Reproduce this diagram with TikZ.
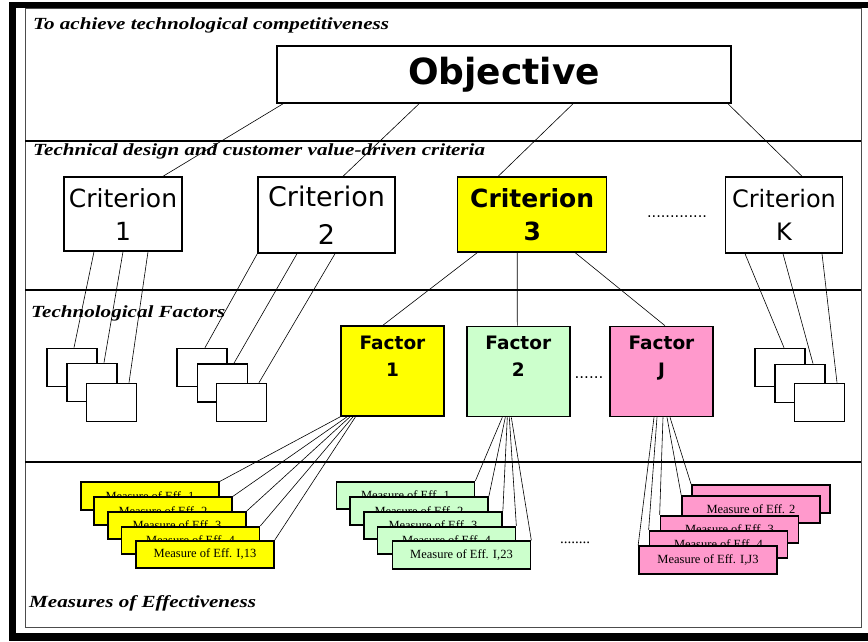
\documentclass[tikz,border=0pt]{standalone}
\usepackage{fontspec}
\setmainfont{Liberation Serif}
\newfontfamily\boxfont{DejaVu Sans}
\newfontfamily\layerfont[FakeStretch=1.24]{Liberation Serif}
\definecolor{crityellow}{HTML}{FFFF00}
\definecolor{factgreen}{HTML}{CCFFCC}
\definecolor{factpink}{HTML}{FF99CC}

\begin{document}
\begin{tikzpicture}[x=1pt, y=-1pt,
  layer/.style={anchor=base west, inner sep=0, font=\layerfont\bfseries\itshape\fontsize{17}{17}\selectfont},
  crit/.style={draw, line width=1.4pt, inner sep=0, align=center},
  fact/.style={draw, line width=1.6pt, inner sep=0, minimum width=103pt, minimum height=90pt, font=\boxfont\bfseries\fontsize{18.5}{27}\selectfont},
  sub/.style={draw, line width=1.7pt, fill=white, inner sep=0, minimum width=50pt, minimum height=38pt},
  meas/.style={draw, line width=1.7pt, inner sep=0, minimum width=138pt, minimum height=27.5pt, font=\fontsize{12.5}{12.5}\selectfont},
  link/.style={line width=0.6pt}]
\useasboundingbox (0,0) rectangle (868,641);
% frame and layers
\fill (9,2) rectangle (868,8);
\fill (9,2) rectangle (16,641);
\fill (9,633) rectangle (868,641);
\draw[black!70, line width=1pt] (25,8) rectangle (861,627);
\draw[line width=2pt] (25,140.5) -- (861,140.5);
\draw[line width=2pt] (25,290) -- (861,290);
\draw[line width=2pt] (25,462) -- (861,462);
\node[layer] (l1) at (33,29) {To achieve technological competitiveness};
\node[layer] (l2) at (33,155) {Technical design and customer value-driven criteria};
\node[layer] (l3) at (31,317) {Technological Factors};
\node[layer] (l4) at (29,607) {Measures of Effectiveness};

\node[draw, line width=1.6pt, inner sep=0, minimum width=454pt, minimum height=57pt, font=\boxfont\bfseries\fontsize{36}{36}\selectfont] (o1) at (504,74.5) {Objective};

\node[crit, minimum width=118pt, minimum height=74pt, font=\boxfont\fontsize{25}{33}\selectfont] (c1) at (123,214) {Criterion\\1};
\node[crit, minimum width=137pt, minimum height=76pt, font=\boxfont\fontsize{27}{38}\selectfont] (c2) at (326.5,215) {Criterion\\2};
\node[crit, fill=crityellow, minimum width=149pt, minimum height=75pt, font=\boxfont\bfseries\fontsize{25}{33}\selectfont] (c3) at (532.2,214.5) {Criterion\\3};
\node[crit, minimum width=117pt, minimum height=76pt, font=\boxfont\fontsize{24}{33}\selectfont] (ck) at (784,215) {Criterion\\K};
\node[font=\boxfont\fontsize{14.5}{14.5}\selectfont] (cdots) at (677,217) {.............};

\node[sub] (s1a) at (72,367.5) {};
\node[sub] (s1b) at (92,382.5) {};
\node[sub] (s1c) at (111.5,402.5) {};
\node[sub] (s2a) at (202,367.5) {};
\node[sub] (s2b) at (222.5,383) {};
\node[sub] (s2c) at (241.5,402.5) {};
\node[sub] (ska) at (780,367.5) {};
\node[sub] (skb) at (800,383.5) {};
\node[sub] (skc) at (819.5,402.5) {};

\node[fact, fill=crityellow] (f1) at (392.5,371) {\parbox[t][70pt][t]{100pt}{\centering Factor\\1}};
\node[fact, fill=factgreen] (f2) at (518.3,371.5) {\parbox[t][70pt][t]{100pt}{\centering Factor\\2}};
\node[fact, fill=factpink] (fj) at (661.5,371.5) {\parbox[t][70pt][t]{100pt}{\centering Factor\\J}};
\node[font=\boxfont\fontsize{15}{15}\selectfont] (fdots) at (589,378) {......};

\node[meas, fill=crityellow] (m11) at (150,496) {Measure of Eff. 1};
\node[meas, fill=crityellow] (m12) at (163,511) {Measure of Eff. 2};
\node[meas, fill=crityellow] (m13) at (177,525.5) {Measure of Eff. 3};
\node[meas, fill=crityellow] (m14) at (190.5,540.5) {Measure of Eff. 4};
\node[meas, fill=crityellow] (m15) at (205,554.5) {Measure of Eff. I,13};
\node[meas, fill=factgreen] (m21) at (405.5,495.5) {Measure of Eff. 1};
\node[meas, fill=factgreen] (m22) at (419,511) {Measure of Eff. 2};
\node[meas, fill=factgreen] (m23) at (433,525.5) {Measure of Eff. 3};
\node[meas, fill=factgreen] (m24) at (446.5,540.5) {Measure of Eff. 4};
\node[meas, fill=factgreen] (m25) at (461.5,555) {Measure of Eff. I,23};
\node[font=\fontsize{15}{15}\selectfont] (mdots) at (575,543) {........};
\node[meas, fill=factpink] (mj1) at (761,499) {};
\node[meas, fill=factpink] (mj2) at (751,509.5) {Measure of Eff. 2};
\node[meas, fill=factpink] (mj3) at (729.5,529.5) {Measure of Eff. 3};
\node[meas, fill=factpink] (mj4) at (718.5,544.5) {Measure of Eff. 4};
\node[meas, fill=factpink] (mj5) at (708,560) {Measure of Eff. I,J3};

% objective to criteria
\draw[link] ([xshift=-221pt]o1.south) -- ([xshift=40pt]c1.north);
\draw[link] ([xshift=-85pt]o1.south) -- ([xshift=16.5pt]c2.north);
\draw[link] ([xshift=69pt]o1.south) -- ([xshift=-34pt]c3.north);
\draw[link] ([xshift=224pt]o1.south) -- ([xshift=18pt]ck.north);
% criteria to factors
\draw[link] ([xshift=-29pt]c1.south) -- ([xshift=2pt]s1a.north);
\draw[link] (c1.south) -- ([xshift=12pt]s1b.north);
\draw[link] ([xshift=25pt]c1.south) -- ([xshift=17.5pt]s1c.north);
\draw[link] (c2.south west) -- ([xshift=3pt]s2a.north);
\draw[link] ([xshift=-29.5pt]c2.south) -- ([xshift=11.5pt]s2b.north);
\draw[link] ([xshift=8.5pt]c2.south) -- ([xshift=17.5pt]s2c.north);
\draw[link] ([xshift=-55pt]c3.south) -- ([xshift=-9.5pt]f1.north);
\draw[link] ([xshift=-15pt]c3.south) -- ([xshift=-1pt]f2.north);
\draw[link] ([xshift=43pt]c3.south) -- ([xshift=3.5pt]fj.north);
\draw[link] ([xshift=-39pt]ck.south) -- ([xshift=4pt]ska.north);
\draw[link] ([xshift=-1pt]ck.south) -- ([xshift=13pt]skb.north);
\draw[link] ([xshift=38pt]ck.south) -- ([xshift=17.5pt]skc.north);
% factors to measures
\draw[link] (f1.south west) -- (m11.north east);
\draw[link] ([xshift=-45.5pt]f1.south) -- (m12.north east);
\draw[link] ([xshift=-42.5pt]f1.south) -- (m13.north east);
\draw[link] ([xshift=-39.5pt]f1.south) -- (m14.north east);
\draw[link] ([xshift=-37pt]f1.south) -- (m15.north east);
\draw[link] ([xshift=-16pt]f2.south) -- (m21.north east);
\draw[link] ([xshift=-13pt]f2.south) -- (m22.north east);
\draw[link] ([xshift=-11pt]f2.south) -- (m23.north east);
\draw[link] ([xshift=-9pt]f2.south) -- (m24.north east);
\draw[link] ([xshift=-7pt]f2.south) -- (m25.north east);
\draw[link] ([xshift=8.5pt]fj.south) -- (mj1.north west);
\draw[link] ([xshift=5.5pt]fj.south) -- (mj2.north west);
\draw[link] ([xshift=1.5pt]fj.south) -- (mj3.north west);
\draw[link] ([xshift=-4.5pt]fj.south) -- (mj4.north west);
\draw[link] ([xshift=-7.5pt]fj.south) -- (mj5.north west);
\end{tikzpicture}
\end{document}
